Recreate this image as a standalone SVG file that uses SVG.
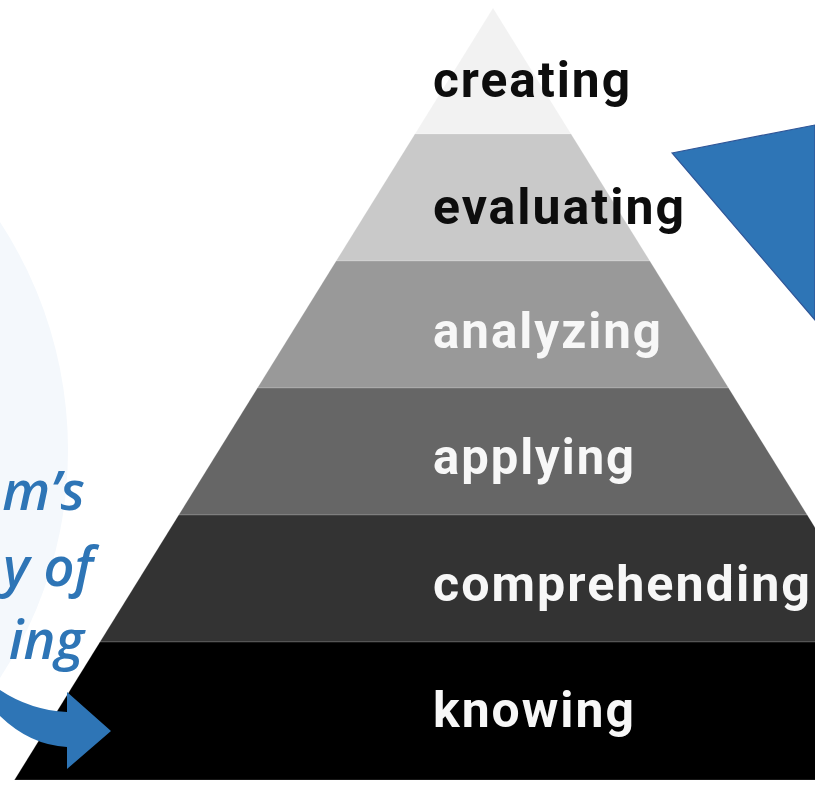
<svg xmlns="http://www.w3.org/2000/svg" width="815" height="785" viewBox="0 0 815 785">
  <style>
    .lvl { font-family: Roboto, "DejaVu Sans", sans-serif; font-weight: 700; font-size: 50px; letter-spacing: 2px; }
    .dark { fill: #0d0d0d; }
    .light { fill: #f7f7f7; }
    .band { stroke: #ffffff; stroke-opacity: 0.18; stroke-width: 1; }
    .side { font-family: "Open Sans", "Noto Sans", sans-serif; font-style: italic; font-weight: 600; font-size: 54px; fill: #2e75b6; }
  </style>
  <rect width="815" height="785" fill="#ffffff"/>
  <g id="backdrop">
    <circle cx="-348" cy="450" r="416" fill="#f4f8fc"/>
  </g>
  <g id="pyramid">
    <g id="creating">
      <polygon class="band" points="493,8 571.1,134 414.9,134" fill="#f2f2f2"/>
      <text class="lvl dark" x="433" y="97" textLength="199" lengthAdjust="spacingAndGlyphs">creating</text>
    </g>
    <g id="evaluating">
      <polygon class="band" points="414.9,134 571.1,134 649.9,261 336.1,261" fill="#c9c9c9"/>
      <text class="lvl dark" x="433" y="224" textLength="253" lengthAdjust="spacingAndGlyphs">evaluating</text>
    </g>
    <g id="analyzing">
      <polygon class="band" points="336.1,261 649.9,261 728.6,388 257.4,388" fill="#999999"/>
      <text class="lvl light" x="433" y="348" textLength="230" lengthAdjust="spacingAndGlyphs">analyzing</text>
    </g>
    <g id="applying">
      <polygon class="band" points="257.4,388 728.6,388 807.3,515 178.7,515" fill="#666666"/>
      <text class="lvl light" x="433" y="474" textLength="203" lengthAdjust="spacingAndGlyphs">applying</text>
    </g>
    <g id="comprehending">
      <polygon class="band" points="178.7,515 807.3,515 886.1,642 99.9,642" fill="#333333"/>
      <text class="lvl light" x="433" y="601" textLength="379" lengthAdjust="spacingAndGlyphs">comprehending</text>
    </g>
    <g id="knowing">
      <polygon class="band" points="99.9,642 886.1,642 971.6,780 14.4,780" fill="#000000"/>
      <text class="lvl light" x="433" y="727" textLength="203" lengthAdjust="spacingAndGlyphs">knowing</text>
    </g>
  </g>
  <g id="callout">
    <polygon points="672,153 815,125 815,320" fill="#2e75b6" stroke="#2f5597" stroke-width="1.2"/>
  </g>
  <g id="title">
    <text class="side" x="85" y="510" text-anchor="end">m’s</text>
    <text class="side" x="93" y="586" text-anchor="end">y of</text>
    <text class="side" x="84" y="659" text-anchor="end">ing</text>
  </g>
  <g id="connectors">
    <path d="M0,690 Q30,710 67,712 L67,692 L111,731 L67,769 L67,747 Q30,745 0,716 Z" fill="#2e75b6"/>
  </g>
</svg>
